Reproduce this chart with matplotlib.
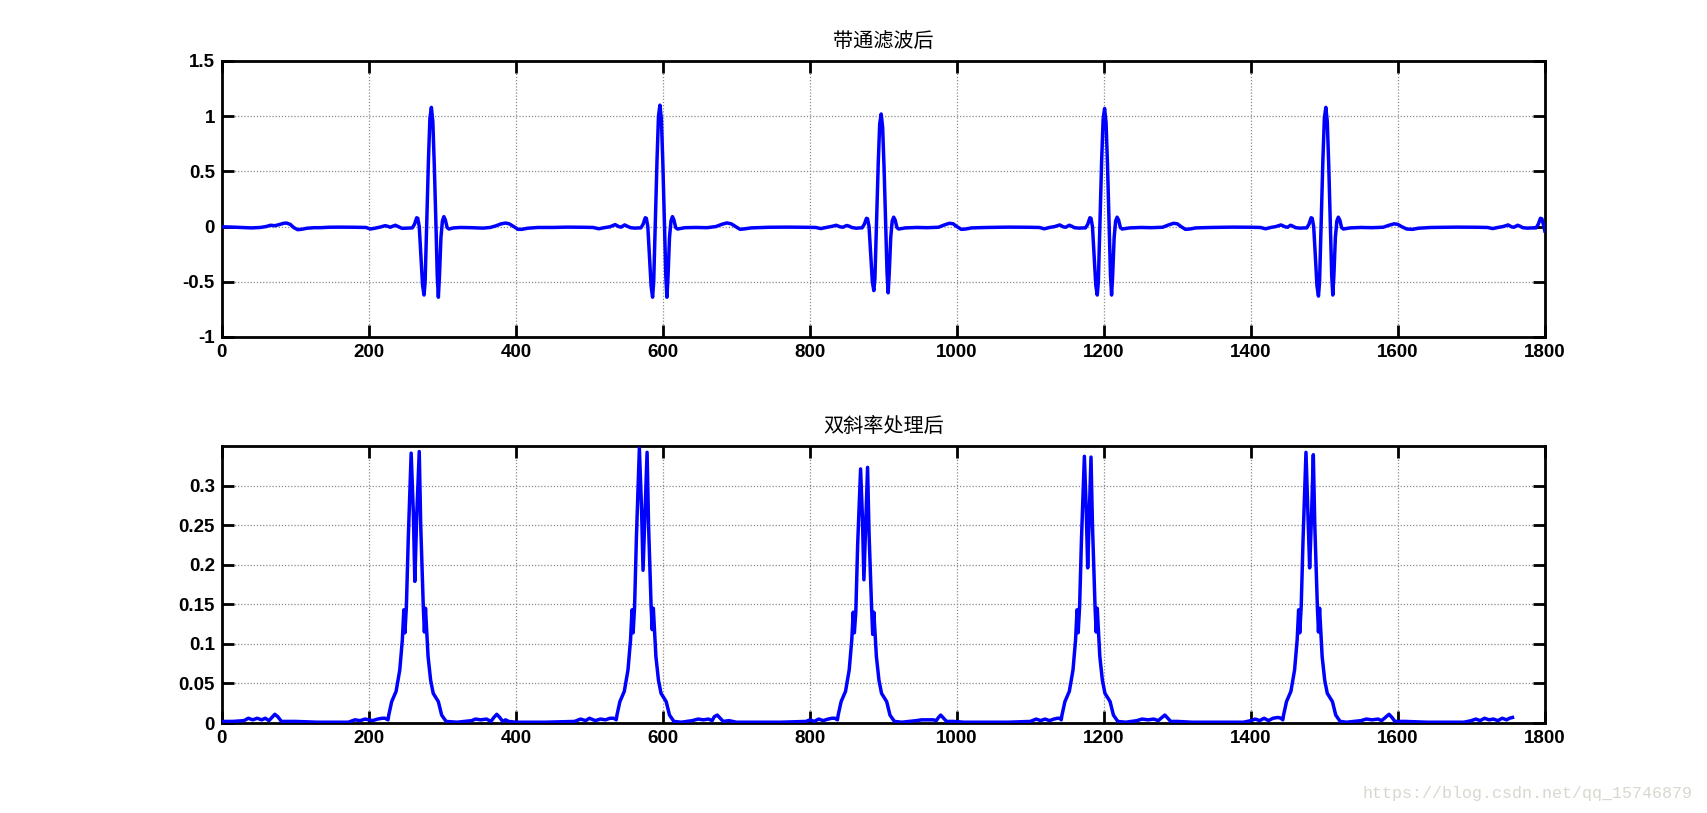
import matplotlib
matplotlib.use("Agg")
import matplotlib.pyplot as plt
import numpy as np

# ---------------- data ----------------
# Top panel: band-pass filtered signal (sample index, amplitude)
bp_x = [0, 12, 25, 40, 52, 60, 66, 72, 78, 84, 88, 93, 98, 103, 108, 116, 125, 135, 145, 160, 180, 196, 202, 208, 215, 222, 226, 229, 233, 236, 240, 245, 252,
        259, 262, 265, 266.5, 268.5, 271, 273, 275, 276.5, 278.5, 281, 283, 285, 287, 289, 291.5, 293, 294.5, 296, 298, 300, 302, 304, 306.5, 309,
        315, 325, 340, 355, 365, 372, 380, 386, 391, 397, 403, 408, 416, 430, 450, 470, 490, 505, 513, 520, 528, 535, 540, 543, 548, 551, 556, 562, 566,
        570, 573, 576, 577.5, 579.5, 582, 584, 586, 587.5, 589.5, 592, 594, 596, 598, 600, 602.5, 604, 605.5, 607, 609, 611, 613, 615, 617.5, 620,
        630, 645, 660, 672, 680, 687, 693, 699, 705, 712, 720, 745, 770, 790, 808, 815, 822, 830, 836, 841, 845, 850, 853, 857, 863, 867,
        871, 874, 877, 878.5, 880.5, 883, 885, 887, 888.5, 890.5, 893, 895, 897, 899, 901, 903.5, 905, 906.5, 908, 910, 912, 914, 916, 918.5, 921,
        930, 945, 960, 975, 983, 990, 995, 1000, 1006, 1012, 1020, 1040, 1070, 1095, 1112, 1119, 1126, 1133, 1140, 1145, 1148, 1153, 1156, 1160, 1166, 1171,
        1175, 1178, 1181, 1182.5, 1184.5, 1187, 1189, 1191, 1192.5, 1194.5, 1197, 1199, 1201, 1203, 1205, 1207.5, 1209, 1210.5, 1212, 1214, 1216, 1218, 1220, 1222.5, 1225,
        1235, 1250, 1265, 1280, 1288, 1295, 1300, 1305, 1311, 1317, 1325, 1345, 1375, 1400, 1413, 1420, 1427, 1434, 1441, 1447, 1450, 1454, 1457, 1461, 1467, 1472,
        1476, 1479, 1482, 1483.5, 1485.5, 1488, 1490, 1492, 1493.5, 1495.5, 1498, 1500, 1502, 1504, 1506, 1508.5, 1510, 1511.5, 1513, 1515, 1517, 1519, 1521, 1523.5, 1526,
        1535, 1550, 1565, 1580, 1588, 1595, 1600, 1605, 1612, 1620, 1628, 1645, 1680, 1705, 1722, 1729, 1736, 1743, 1750, 1755, 1758, 1763, 1766, 1770, 1776, 1782, 1788,
        1791, 1794, 1796, 1798, 1800]
bp_y = [-0.002, -0.004, -0.008, -0.012, -0.008, 0.0, 0.012, 0.008, 0.018, 0.03, 0.032, 0.02, -0.01, -0.028, -0.025, -0.015, -0.01, -0.01, -0.006, -0.005, -0.006, -0.008, -0.022, -0.015, -0.005, 0.008, 0.002, -0.006, 0.005, 0.012, 0.0, -0.016, -0.014,
        -0.012, 0.02, 0.08, 0.075, 0.0, -0.3, -0.53, -0.62, -0.5, 0.0, 0.6, 0.98, 1.08, 0.95, 0.55, -0.05, -0.45, -0.64, -0.45, -0.1, 0.05, 0.09, 0.06, -0.01, -0.022,
        -0.012, -0.008, -0.01, -0.014, -0.008, 0.005, 0.025, 0.032, 0.025, 0.0, -0.025, -0.025, -0.015, -0.008, -0.008, -0.005, -0.006, -0.008, -0.02, -0.01, -0.002, 0.018, 0.0, -0.005, 0.015, 0.005, -0.01, -0.014, -0.012,
        -0.012, 0.02, 0.08, 0.075, 0.0, -0.3, -0.54, -0.64, -0.5, 0.0, 0.6, 1.0, 1.10, 0.97, 0.56, -0.05, -0.45, -0.64, -0.45, -0.1, 0.05, 0.09, 0.06, -0.01, -0.022,
        -0.01, -0.008, -0.01, 0.0, 0.02, 0.033, 0.025, 0.0, -0.025, -0.02, -0.012, -0.006, -0.005, -0.006, -0.008, -0.018, -0.008, 0.002, 0.012, -0.002, -0.006, 0.01, 0.005, -0.008, -0.015, -0.012,
        -0.012, 0.02, 0.075, 0.07, 0.0, -0.28, -0.5, -0.58, -0.47, 0.0, 0.57, 0.93, 1.02, 0.9, 0.52, -0.05, -0.42, -0.60, -0.42, -0.1, 0.05, 0.085, 0.06, -0.01, -0.022,
        -0.012, -0.008, -0.01, -0.006, 0.015, 0.03, 0.025, 0.0, -0.025, -0.022, -0.012, -0.008, -0.005, -0.006, -0.008, -0.02, -0.008, 0.0, 0.015, -0.003, -0.006, 0.012, 0.004, -0.01, -0.014, -0.012,
        -0.012, 0.02, 0.08, 0.075, 0.0, -0.3, -0.53, -0.62, -0.5, 0.0, 0.6, 0.97, 1.07, 0.94, 0.55, -0.05, -0.44, -0.62, -0.44, -0.1, 0.05, 0.085, 0.06, -0.01, -0.022,
        -0.012, -0.008, -0.01, -0.006, 0.015, 0.03, 0.025, 0.0, -0.025, -0.022, -0.012, -0.008, -0.005, -0.006, -0.008, -0.02, -0.008, 0.0, 0.015, -0.003, -0.006, 0.012, 0.004, -0.01, -0.014, -0.012,
        -0.012, 0.02, 0.08, 0.075, 0.0, -0.3, -0.54, -0.63, -0.5, 0.0, 0.6, 0.98, 1.08, 0.95, 0.55, -0.05, -0.44, -0.62, -0.44, -0.1, 0.05, 0.085, 0.06, -0.01, -0.022,
        -0.012, -0.008, -0.01, -0.006, 0.012, 0.025, 0.02, 0.0, -0.022, -0.025, -0.015, -0.008, -0.005, -0.006, -0.008, -0.018, -0.008, 0.0, 0.015, -0.003, -0.006, 0.012, 0.004, -0.01, -0.014, -0.012, -0.012,
        0.02, 0.075, 0.07, 0.02, -0.04]

# Bottom panel: double-slope processed signal
ds_x = [0, 15, 30, 36, 42, 48, 54, 59, 64, 68, 72, 76, 81, 100, 130, 172, 181, 188, 195, 205, 212, 218, 222,
        226, 227, 231, 237, 242, 245.5, 247.5, 249, 251, 253.5, 257.5, 260.5, 262.5, 265, 268.5, 270.5, 274, 275.5, 277, 280.5, 284, 287.5, 294.5, 299, 305,
        320, 340, 345, 352, 360, 366, 370, 374, 378, 382, 386, 390, 400, 440, 480, 488, 495, 500, 508, 515, 522, 528, 533,
        536.5, 537.5, 541.5, 547.5, 552.5, 556, 558, 559.5, 561.5, 564, 568, 571, 573, 575.5, 578.5, 580.5, 584, 585.5, 587, 590.5, 594, 597.5, 604.5, 609, 615,
        625, 640, 648, 655, 662, 667, 670, 674, 678, 682, 690, 700, 760, 795, 800, 806, 812, 818, 825, 830, 834,
        837.5, 838.5, 842.5, 848.5, 853.5, 857, 859, 860.5, 862.5, 865, 869, 871.5, 873.5, 876, 878.5, 880.5, 884, 885.5, 887, 890.5, 894, 897.5, 904.5, 909, 915,
        925, 945, 952, 960, 968, 972, 975, 978, 982, 986, 995, 1010, 1070, 1100, 1108, 1114, 1120, 1126, 1132, 1137, 1140,
        1142, 1143, 1147, 1153, 1158, 1161.5, 1163.5, 1165, 1167, 1169.5, 1173.5, 1176, 1178, 1180, 1182.5, 1184.5, 1188, 1189.5, 1191, 1194.5, 1198, 1201.5, 1208.5, 1213, 1219,
        1230, 1245, 1252, 1260, 1268, 1274, 1279, 1283, 1287, 1291, 1300, 1320, 1390, 1400, 1406, 1412, 1418, 1424, 1430, 1437, 1441,
        1443.5, 1444.5, 1448.5, 1454.5, 1459.5, 1463, 1465, 1466.5, 1468.5, 1471, 1475, 1477.5, 1480, 1482.5, 1485, 1487, 1490.5, 1492, 1493.5, 1497, 1500.5, 1504, 1511, 1515.5, 1521.5,
        1530, 1550, 1557, 1565, 1573, 1578, 1583, 1588, 1592, 1596, 1610, 1640, 1690, 1700, 1706, 1712, 1718, 1724, 1730, 1736, 1742, 1748, 1752, 1756]
ds_y = [0.002, 0.002, 0.003, 0.006, 0.004, 0.006, 0.004, 0.006, 0.003, 0.007, 0.011, 0.008, 0.002, 0.002, 0.001, 0.001, 0.004, 0.003, 0.005, 0.003, 0.005, 0.006, 0.006,
        0.004, 0.01, 0.027, 0.04, 0.067, 0.105, 0.143, 0.114, 0.147, 0.231, 0.341, 0.265, 0.179, 0.26, 0.343, 0.25, 0.147, 0.115, 0.145, 0.084, 0.054, 0.0375, 0.027, 0.01, 0.002,
        0.001, 0.003, 0.005, 0.004, 0.005, 0.002, 0.007, 0.011, 0.007, 0.002, 0.004, 0.002, 0.001, 0.001, 0.002, 0.005, 0.003, 0.006, 0.003, 0.005, 0.004, 0.006, 0.006,
        0.004, 0.01, 0.027, 0.04, 0.067, 0.105, 0.143, 0.114, 0.147, 0.235, 0.347, 0.27, 0.193, 0.26, 0.342, 0.25, 0.147, 0.118, 0.145, 0.084, 0.054, 0.0375, 0.027, 0.01, 0.002,
        0.001, 0.003, 0.005, 0.004, 0.005, 0.003, 0.008, 0.01, 0.006, 0.002, 0.003, 0.001, 0.001, 0.002, 0.004, 0.002, 0.005, 0.003, 0.005, 0.006, 0.006,
        0.004, 0.01, 0.027, 0.04, 0.067, 0.105, 0.14, 0.114, 0.14, 0.225, 0.321, 0.26, 0.181, 0.25, 0.323, 0.24, 0.145, 0.112, 0.14, 0.084, 0.054, 0.0375, 0.027, 0.01, 0.002,
        0.001, 0.003, 0.004, 0.004, 0.004, 0.003, 0.007, 0.01, 0.006, 0.002, 0.002, 0.001, 0.001, 0.002, 0.005, 0.003, 0.005, 0.003, 0.005, 0.006, 0.006,
        0.004, 0.01, 0.027, 0.04, 0.067, 0.105, 0.143, 0.114, 0.147, 0.231, 0.337, 0.27, 0.196, 0.26, 0.336, 0.25, 0.147, 0.115, 0.145, 0.084, 0.054, 0.0375, 0.027, 0.01, 0.002,
        0.001, 0.003, 0.005, 0.004, 0.005, 0.003, 0.007, 0.01, 0.006, 0.002, 0.002, 0.001, 0.001, 0.003, 0.005, 0.003, 0.006, 0.003, 0.006, 0.007, 0.006,
        0.004, 0.01, 0.027, 0.04, 0.067, 0.105, 0.143, 0.114, 0.147, 0.231, 0.342, 0.27, 0.196, 0.26, 0.339, 0.25, 0.147, 0.115, 0.145, 0.084, 0.054, 0.0375, 0.027, 0.01, 0.002,
        0.001, 0.003, 0.005, 0.004, 0.005, 0.003, 0.007, 0.011, 0.007, 0.002, 0.002, 0.001, 0.001, 0.003, 0.005, 0.003, 0.006, 0.004, 0.005, 0.003, 0.006, 0.004, 0.006, 0.007]

titles = ["带通滤波后", "双斜率处理后"]
x_ticks = [0, 200, 400, 600, 800, 1000, 1200, 1400, 1600, 1800]
top_yticks = [-1, -0.5, 0, 0.5, 1, 1.5]
top_ylabels = ["-1", "-0.5", "0", "0.5", "1", "1.5"]
bot_yticks = [0, 0.05, 0.1, 0.15, 0.2, 0.25, 0.3]
bot_ylabels = ["0", "0.05", "0.1", "0.15", "0.2", "0.25", "0.3"]
watermark = "https://blog.csdn.net/qq_15746879"

# ---------------- drawing ----------------
fig = plt.figure(figsize=(17.07, 8.13), dpi=100, facecolor="white")
ax1 = fig.add_axes([0.13, 0.5855, 0.775, 0.3395])
ax2 = fig.add_axes([0.13, 0.1107, 0.775, 0.3407])

tick_font = dict(family="Liberation Sans", weight="bold", size=13.5)

def style(ax, yticks, ylabels, ylim, title):
    ax.set_xlim(0, 1800)
    ax.set_ylim(*ylim)
    ax.set_xticks(x_ticks)
    ax.set_xticklabels([str(t) for t in x_ticks], **tick_font)
    ax.set_yticks(yticks)
    ax.set_yticklabels(ylabels, **tick_font)
    ax.tick_params(which="both", direction="in", top=True, right=True,
                   length=8.5, width=2, pad=5, colors="black")
    for s in ax.spines.values():
        s.set_linewidth(2)
        s.set_color("black")
    ax.grid(True, color="#8c8c8c", linestyle=(0, (1, 1.5)), linewidth=0.9)
    ax.set_axisbelow(True)
    ax.set_title(title, family=["Noto Sans CJK SC", "DejaVu Sans"], size=14.5, pad=10)

ax1.plot(bp_x, bp_y, color=(0, 0, 1), linewidth=2.5, solid_joinstyle="round", zorder=3)
style(ax1, top_yticks, top_ylabels, (-1, 1.5), titles[0])

ax2.plot(ds_x, ds_y, color=(0, 0, 1), linewidth=2.5, solid_joinstyle="round", zorder=3)
style(ax2, bot_yticks, bot_ylabels, (0, 0.35), titles[1])

fig.text(0.9915, 0.0246, watermark, ha="right", va="center",
         family="Liberation Mono", size=12, color="#d8d8cf")

fig.savefig("out.png", dpi=100, facecolor="white")
